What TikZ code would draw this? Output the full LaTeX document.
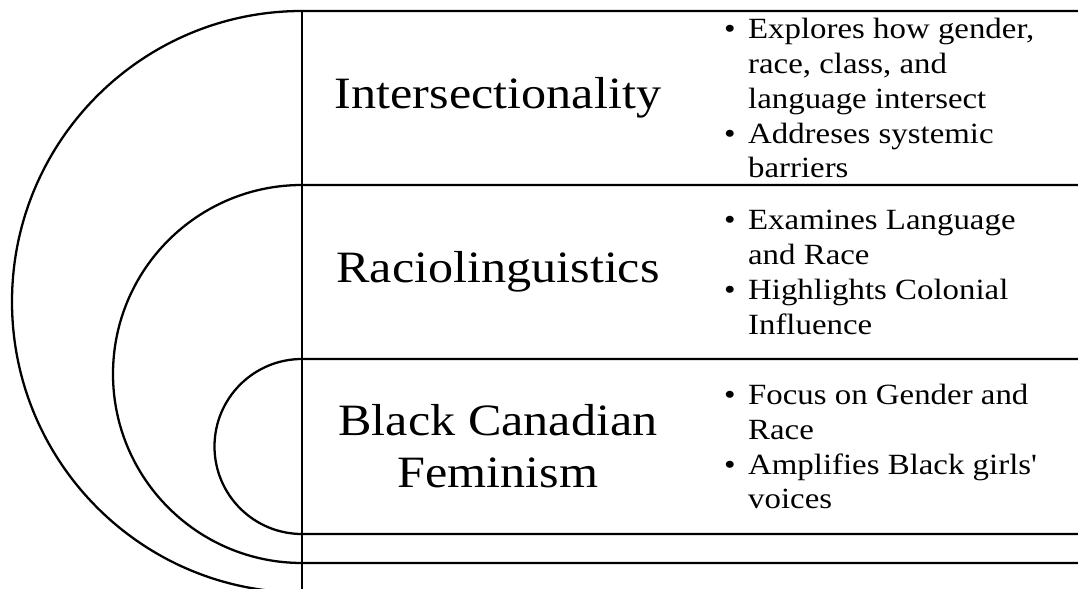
\documentclass[tikz,border=0pt]{standalone}
\usepackage{fontspec}
\setmainfont[FakeStretch=1.12]{Liberation Serif}
\usetikzlibrary{positioning}

\newcommand{\pbul}{\makebox[0.48cm][l]{\textbullet}}
\newcommand{\pind}{\hspace*{0.48cm}}

\begin{document}
\begin{tikzpicture}[line width=1.3pt, every node/.style={inner sep=0pt},
  title/.style={font=\fontsize{25.5}{29.6}\selectfont, align=center},
  points/.style={font=\fontsize{16.7}{19.9}\selectfont, align=left, anchor=west}]
  \useasboundingbox (0,0) rectangle (21.56,11.78);
  % nested half rings and bands
  \draw (21.56,11.56) -- (6.04,11.56) arc[start angle=90, end angle=270, x radius=5.8, y radius=5.815];
  \draw (21.56,8.08) -- (6.04,8.08) arc[start angle=90, end angle=270, radius=3.78] -- (21.56,0.52);
  \draw (21.56,4.60) -- (6.04,4.60) arc[start angle=90, end angle=270, radius=1.75] -- (21.56,1.10);
  \draw (6.04,11.56) -- (6.04,0);

  \node[title] (inter) at (9.96,9.82) {Intersectionality};
  \node[title] (racio) at (9.96,6.34) {Raciolinguistics};
  \node[title] (bcf) at (9.96,2.85) {Black Canadian\\Feminism};

  \node[points] (interpts) at (14.46,9.82) {\pbul Explores how gender,\\ \pind race, class, and\\ \pind language intersect\\ \pbul Addreses systemic\\ \pind barriers};
  \node[points] (raciopts) at (14.46,6.34) {\pbul Examines Language\\ \pind and Race\\ \pbul Highlights Colonial\\ \pind Influence};
  \node[points] (bcfpts) at (14.46,2.85) {\pbul Focus on Gender and\\ \pind Race\\ \pbul Amplifies Black girls\textquotesingle\\ \pind voices};
\end{tikzpicture}
\end{document}
